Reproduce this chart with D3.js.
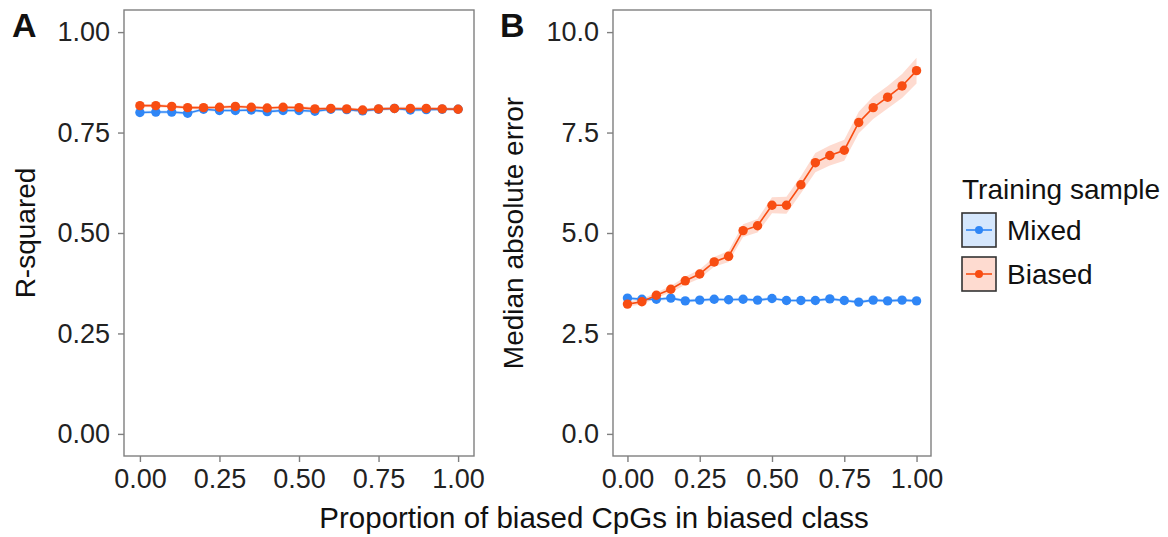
<!DOCTYPE html>
<html>
  <head>
    <title></title>
    <script src="https://cdnjs.cloudflare.com/ajax/libs/d3/7.8.5/d3.min.js"></script>
    <style>
      body { margin: 0; background: #fff; }
      text { font-family: "Liberation Sans", Arial, sans-serif; }
    </style>
  </head>
  <body>
    <script type="text/javascript">

    const proportion = [0, 0.05, 0.1, 0.15, 0.2, 0.25, 0.3, 0.35, 0.4, 0.45, 0.5,
                        0.55, 0.6, 0.65, 0.7, 0.75, 0.8, 0.85, 0.9, 0.95, 1];
    const groups = ["Mixed", "Biased"];
    const colors = { Mixed: "#2f86f6", Biased: "#f84d12" };

    // panel A: R-squared
    const rsqMixed = [0.800, 0.801, 0.801, 0.798, 0.808, 0.805, 0.805, 0.806, 0.802, 0.805, 0.805,
                      0.803, 0.808, 0.807, 0.804, 0.808, 0.810, 0.806, 0.807, 0.808, 0.808];
    const rsqBiased = [0.817, 0.817, 0.815, 0.812, 0.812, 0.813, 0.815, 0.813, 0.811, 0.813, 0.812,
                       0.809, 0.810, 0.809, 0.806, 0.809, 0.810, 0.810, 0.810, 0.809, 0.808];
    const rsqBand = [0.004, 0.004, 0.004, 0.004, 0.004, 0.004, 0.004, 0.004, 0.004, 0.004, 0.004,
                     0.004, 0.004, 0.004, 0.004, 0.004, 0.004, 0.004, 0.004, 0.004, 0.004];

    // panel B: median absolute error
    const maeMixed = [3.38, 3.35, 3.35, 3.38, 3.31, 3.33, 3.35, 3.34, 3.35, 3.33, 3.37,
                      3.32, 3.32, 3.32, 3.36, 3.32, 3.28, 3.33, 3.31, 3.33, 3.31];
    const maeBiased = [3.23, 3.29, 3.45, 3.60, 3.81, 3.98, 4.28, 4.42, 5.06, 5.18, 5.69,
                       5.69, 6.20, 6.75, 6.93, 7.06, 7.75, 8.12, 8.38, 8.66, 9.04];
    const maeMixedBand = [0.04, 0.04, 0.04, 0.04, 0.04, 0.04, 0.04, 0.04, 0.04, 0.04, 0.04,
                          0.04, 0.04, 0.04, 0.04, 0.04, 0.04, 0.04, 0.04, 0.04, 0.04];
    const maeBiasedBand = [0.06, 0.07, 0.07, 0.08, 0.10, 0.11, 0.12, 0.14, 0.16, 0.17, 0.20,
                           0.21, 0.21, 0.24, 0.25, 0.26, 0.27, 0.28, 0.28, 0.30, 0.32];

    const xTicks = [0, 0.25, 0.5, 0.75, 1];
    const rsqTicks = [0, 0.25, 0.5, 0.75, 1];
    const maeTicks = [0, 2.5, 5, 7.5, 10];

    const width = 1168, height = 537;
    const svg = d3.select("body").append("svg")
      .attr("width", width)
      .attr("height", height);

    function makeSeries(ys, band) {
      return proportion.map((p, i) => ({ x: p, y: ys[i], lo: ys[i] - band[i], hi: ys[i] + band[i] }));
    }

    function panel(opts) {
      const g = svg.append("g");
      const x = d3.scaleLinear().domain([-0.05, 1.05]).range([opts.left, opts.right]);
      const y = d3.scaleLinear().domain(opts.yDomain).range([456, 10]);

      const area = d3.area().x(d => x(d.x)).y0(d => y(d.lo)).y1(d => y(d.hi));
      const line = d3.line().x(d => x(d.x)).y(d => y(d.y));

      opts.series.forEach(s => {
        g.append("path")
          .attr("d", area(s.data))
          .attr("fill", colors[s.name])
          .attr("fill-opacity", 0.2);
      });
      opts.series.forEach(s => {
        g.append("path")
          .attr("d", line(s.data))
          .attr("fill", "none")
          .attr("stroke", colors[s.name])
          .attr("stroke-width", 1.6);
        g.selectAll(null).data(s.data).enter().append("circle")
          .attr("cx", d => x(d.x))
          .attr("cy", d => y(d.y))
          .attr("r", 4.7)
          .attr("fill", colors[s.name]);
      });

      g.append("rect")
        .attr("x", opts.left).attr("y", 10)
        .attr("width", opts.right - opts.left).attr("height", 446)
        .attr("fill", "none")
        .attr("stroke", "#7f7f7f")
        .attr("stroke-width", 1.4);

      const xAxis = g.append("g")
        .attr("transform", "translate(0,456)")
        .call(d3.axisBottom(x).tickValues(xTicks).tickFormat(d3.format(".2f")).tickSize(6));
      const yAxis = g.append("g")
        .attr("transform", "translate(" + opts.left + ",0)")
        .call(d3.axisLeft(y).tickValues(opts.yTicks).tickFormat(d3.format(opts.yFormat)).tickSize(6).tickPadding(8));

      [xAxis, yAxis].forEach(a => {
        a.select(".domain").remove();
        a.selectAll(".tick line").attr("stroke", "#7f7f7f").attr("stroke-width", 1.4);
        a.selectAll(".tick text")
          .attr("fill", "#222")
          .style("font-size", "27px")
          .style("font-family", "Liberation Sans, Arial, sans-serif");
      });
      xAxis.selectAll(".tick text").attr("y", 32).attr("dy", 0);

      svg.append("text")
        .attr("transform", "translate(" + opts.titleX + ",233) rotate(-90)")
        .attr("text-anchor", "middle")
        .attr("dy", "0.35em")
        .style("font-size", "28px")
        .attr("fill", "#111")
        .text(opts.yTitle);

      svg.append("text")
        .attr("x", opts.tagX).attr("y", 37)
        .style("font-size", "34px")
        .style("font-weight", "bold")
        .attr("fill", "#111")
        .text(opts.tag);
    }

    panel({
      left: 124, right: 474, yDomain: [-0.055, 1.055], yTicks: rsqTicks, yFormat: ".2f",
      yTitle: "R-squared", titleX: 25, tag: "A", tagX: 12,
      series: [
        { name: "Mixed", data: makeSeries(rsqMixed, rsqBand) },
        { name: "Biased", data: makeSeries(rsqBiased, rsqBand) }
      ]
    });

    panel({
      left: 613, right: 931, yDomain: [-0.55, 10.55], yTicks: maeTicks, yFormat: ".1f",
      yTitle: "Median absolute error", titleX: 513, tag: "B", tagX: 500,
      series: [
        { name: "Mixed", data: makeSeries(maeMixed, maeMixedBand) },
        { name: "Biased", data: makeSeries(maeBiased, maeBiasedBand) }
      ]
    });

    svg.append("text")
      .attr("x", 594).attr("y", 528)
      .attr("text-anchor", "middle")
      .style("font-size", "29.5px")
      .attr("fill", "#111")
      .text("Proportion of biased CpGs in biased class");

    // legend
    const legend = svg.append("g").attr("transform", "translate(962,0)");
    legend.append("text")
      .attr("x", 0).attr("y", 199)
      .style("font-size", "28px")
      .attr("fill", "#111")
      .text("Training sample");

    groups.forEach((grp, i) => {
      const top = 213 + i * 44;
      legend.append("rect")
        .attr("x", 0).attr("y", top)
        .attr("width", 34).attr("height", 34)
        .attr("fill", colors[grp]).attr("fill-opacity", 0.2);
      legend.append("rect")
        .attr("x", 0).attr("y", top)
        .attr("width", 34).attr("height", 34)
        .attr("fill", "none")
        .attr("stroke", "#333")
        .attr("stroke-width", 1.6);
      legend.append("line")
        .attr("x1", 4).attr("x2", 30)
        .attr("y1", top + 17).attr("y2", top + 17)
        .attr("stroke", colors[grp]).attr("stroke-width", 1.6);
      legend.append("circle")
        .attr("cx", 17).attr("cy", top + 17).attr("r", 4)
        .attr("fill", colors[grp]);
      legend.append("text")
        .attr("x", 45).attr("y", top + 17)
        .attr("dy", "0.35em")
        .style("font-size", "28px")
        .attr("fill", "#111")
        .text(grp);
    });

    </script>
  </body>
</html>
